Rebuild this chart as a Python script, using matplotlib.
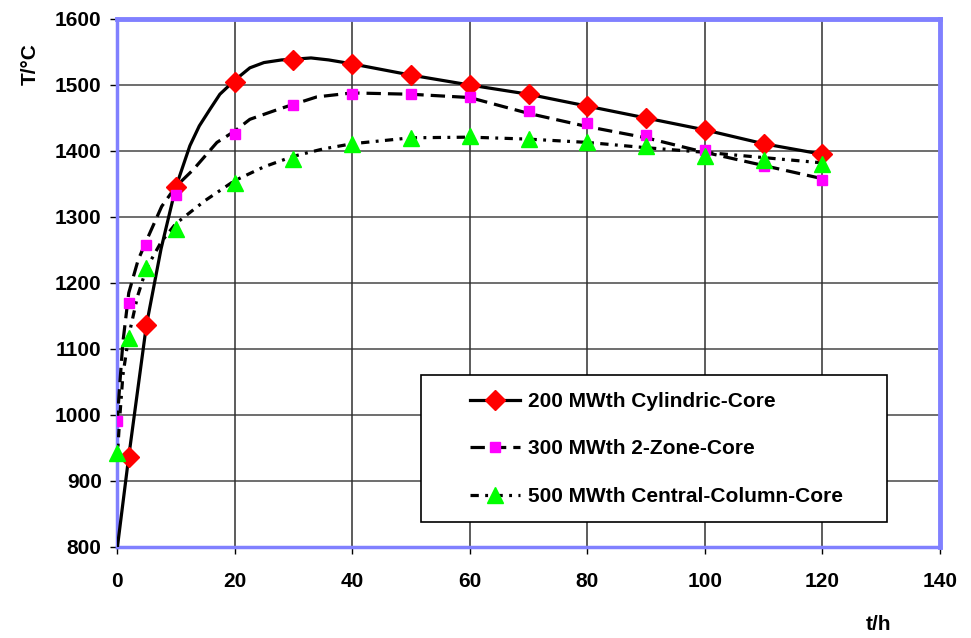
import matplotlib
matplotlib.use("Agg")
import matplotlib.pyplot as plt
from matplotlib.lines import Line2D
from matplotlib.patches import Rectangle

plt.rcParams['font.family'] = ['Liberation Sans', 'DejaVu Sans']
plt.rcParams['font.weight'] = 'bold'

# ---- marker data ----
t_cyl = [2, 5, 10, 20, 30, 40, 50, 60, 70, 80, 90, 100, 110, 120]
T_cyl = [937, 1136, 1345, 1505, 1538, 1532, 1515, 1500, 1486, 1468, 1450, 1432, 1411, 1395]

t_2z = [0, 2, 5, 10, 20, 30, 40, 50, 60, 70, 80, 90, 100, 110, 120]
T_2z = [991, 1169, 1258, 1334, 1426, 1469, 1487, 1486, 1482, 1461, 1442, 1424, 1402, 1378, 1356]

t_cc = [0, 2, 5, 10, 20, 30, 40, 50, 60, 70, 80, 90, 100, 110, 120]
T_cc = [942, 1117, 1223, 1282, 1351, 1388, 1410, 1420, 1422, 1418, 1413, 1407, 1392, 1387, 1380]

# ---- curve data ----
tl_cyl = [0, 2, 5, 7.5, 10, 12.4, 14, 15.8, 17.5, 20, 22.6, 25, 28, 30, 33, 36, 40, 50, 60, 70, 80, 90, 100, 110, 120]
Tl_cyl = [795, 937, 1136, 1252, 1345, 1408, 1438, 1463, 1486, 1507, 1526, 1534, 1538, 1539, 1541, 1538, 1532, 1515, 1500, 1486, 1468, 1450, 1432, 1411, 1395]

tl_2z = [0, 0.5, 1, 2, 3.6, 5.3, 7.6, 10, 13, 17, 20, 22.6, 27.7, 34, 40, 50, 60, 70, 80, 90, 100, 110, 120]
Tl_2z = [985, 1050, 1110, 1185, 1235, 1270, 1316, 1346, 1372, 1413, 1430, 1448, 1464, 1482, 1488, 1486, 1481, 1457, 1437, 1420, 1398, 1378, 1358]

tl_cc = [0, 0.5, 1, 2, 3.5, 5, 7.5, 10, 15, 20, 25, 30, 35, 40, 50, 60, 70, 80, 90, 100, 110, 120]
Tl_cc = [930, 1000, 1060, 1120, 1180, 1222, 1262, 1290, 1325, 1355, 1376, 1392, 1403, 1411, 1420, 1421, 1418, 1413, 1405, 1398, 1390, 1382]

labels = ["200 MWth Cylindric-Core", "300 MWth 2-Zone-Core", "500 MWth Central-Column-Core"]
xticks = [0, 20, 40, 60, 80, 100, 120, 140]
yticks = [800, 900, 1000, 1100, 1200, 1300, 1400, 1500, 1600]

W, H = 971, 638
fig = plt.figure(figsize=(W / 100, H / 100), dpi=100)
ax = fig.add_axes([117 / W, 1 - 547 / H, (940 - 117) / W, (547 - 19) / H])

ax.set_xlim(0, 140)
ax.set_ylim(800, 1600)
ax.set_xticks(xticks)
ax.set_yticks(yticks)

for y in yticks[1:-1]:
    ax.axhline(y, color='#6e6e6e', lw=1.4, zorder=1)
for x in xticks[1:-1]:
    ax.axvline(x, color='#303030', lw=1.1, zorder=1)

lw = 2.3
ls_2z = (0, (4.5, 2.2))
ls_cc = (0, (2.6, 2.0, 0.9, 2.0))
ax.plot(tl_cyl, Tl_cyl, color='black', lw=lw, solid_joinstyle='round', zorder=3)
ax.plot(tl_2z, Tl_2z, color='black', lw=lw, linestyle=ls_2z, zorder=3)
ax.plot(tl_cc, Tl_cc, color='black', lw=lw, linestyle=ls_cc, zorder=3)

ax.plot(t_cyl, T_cyl, linestyle='none', marker='D', ms=10, color='#ff0000', mec='#ff0000', zorder=5)
ax.plot(t_2z, T_2z, linestyle='none', marker='s', ms=6.5, color='#ff00ff', mec='#ff00ff', zorder=5)
ax.plot(t_cc, T_cc, linestyle='none', marker='^', ms=12, color='#00ff00', mec='#00ff00', zorder=5, clip_on=False)

for s in ax.spines.values():
    s.set_color('#8080ff')
ax.spines['top'].set_linewidth(3.5)
ax.spines['right'].set_linewidth(3.5)
ax.spines['left'].set_linewidth(2.5)
ax.spines['bottom'].set_linewidth(2.5)

ax.tick_params(axis='both', direction='out', length=5, width=1, color='black',
               labelsize=15, labelcolor='black')
ax.tick_params(axis='x', pad=13)
ax.tick_params(axis='y', pad=6)
for lab in ax.get_xticklabels() + ax.get_yticklabels():
    lab.set_fontweight('bold')

# legend box
rect = Rectangle((0.369, 0.047), 0.567, 0.279, transform=ax.transAxes,
                 facecolor='white', edgecolor='black', lw=1.2, zorder=8)
ax.add_patch(rect)

handles = [
    Line2D([], [], color='black', lw=lw, marker='D', ms=10, mfc='#ff0000', mec='#ff0000'),
    Line2D([], [], color='black', lw=lw, linestyle=ls_2z, marker='s', ms=6.5, mfc='#ff00ff', mec='#ff00ff'),
    Line2D([], [], color='black', lw=lw, linestyle=ls_cc, marker='^', ms=12, mfc='#00ff00', mec='#00ff00'),
]
leg = ax.legend(handles, labels, loc='center left', bbox_to_anchor=((460 - 117) / 823, (547 - 449) / 528),
                frameon=False, borderpad=0, handlelength=2.4, handletextpad=0.35,
                labelspacing=1.36, prop={'size': 15, 'weight': 'bold'})
leg.set_zorder(9)

fig.text(30 / W, 1 - 64 / H, "T/°C", rotation=90, ha='center', va='center', fontsize=15, fontweight='bold')
fig.text(878 / W, 1 - 625 / H, "t/h", ha='center', va='center', fontsize=15, fontweight='bold')

fig.savefig("out.png", dpi=100)
